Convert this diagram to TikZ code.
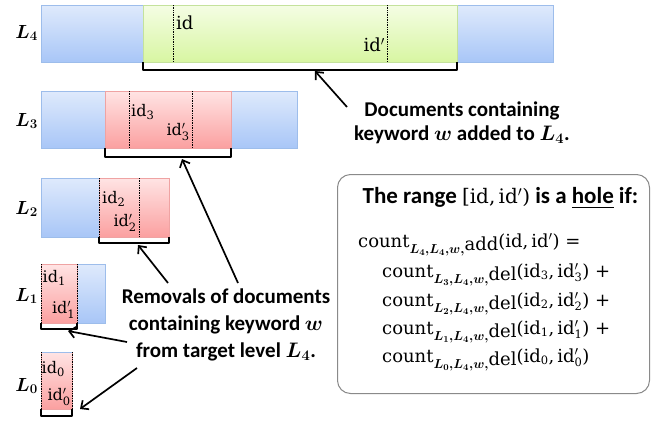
\RequirePackage{fix-cm}
\documentclass[tikz,border=0pt]{standalone}
\usepackage{amsmath}
\usepackage{bm}
\usepackage[no-math]{fontspec}
\setmainfont{Carlito}
\newfontfamily\cam{DejaVu Serif}
\usetikzlibrary{arrows.meta}
\definecolor{bt}{HTML}{DFEAFC}
\definecolor{bb}{HTML}{A8C6F7}
\definecolor{bd}{HTML}{9DBDEB}
\definecolor{gt}{HTML}{F4FDE4}
\definecolor{gb}{HTML}{D8F6A2}
\definecolor{gd}{HTML}{C4E29C}
\definecolor{pt}{HTML}{FFE4E4}
\definecolor{pb}{HTML}{FBA0A0}
\definecolor{pd}{HTML}{EFA3A3}
\definecolor{boxd}{HTML}{8A8A8A}
\tikzset{
  bluebar/.style={top color=bt, bottom color=bb, draw=bd, line width=0.6pt},
  greenbar/.style={top color=gt, bottom color=gb, draw=gd, line width=0.6pt},
  pinkbar/.style={top color=pt, bottom color=pb, draw=pd, line width=0.6pt},
  dotl/.style={densely dotted, line width=0.7pt},
  brk/.style={line width=1.5pt, line join=round},
  arr/.style={line width=1.7pt, -{Straight Barb[length=6pt,width=11pt,line width=1.7pt]}},
  idl/.style={font=\fontsize{16}{16}\selectfont\cam, inner sep=0pt},
  lvl/.style={font=\fontsize{19}{19}\selectfont, inner sep=0pt, anchor=east},
  lbl/.style={font=\fontsize{21}{27}\selectfont\bfseries, align=center, inner sep=0pt},
  cl/.style={font=\fontsize{18}{18}\selectfont\cam, inner sep=0pt, anchor=base west},
}
% id with subscript (and optional prime)
\newcommand{\ids}[1]{id$_{\mbox{\fontsize{11.5}{11.5}\selectfont #1}}$}
\newcommand{\idp}[1]{id$'_{\mbox{\fontsize{11.5}{11.5}\selectfont #1}}$}
\newcommand{\cntl}[3]{count\raisebox{-6.5pt}{\fontsize{13}{13}\selectfont$\bm{#1}$}\raisebox{-3pt}{#2}(#3)}
\begin{document}
\begin{tikzpicture}[x=1pt,y=-1pt]
\useasboundingbox (0,0) rectangle (665,421);
% L4
\path[bluebar] (41,5) rectangle (143,62);
\path[bluebar] (457,5) rectangle (553,62);
\path[greenbar] (143,5) rectangle (457,62);
\draw[dotl] (173,5) -- (173,62);
\draw[dotl] (387,5) -- (387,62);
\node[idl, font=\fontsize{18}{18}\selectfont\cam, anchor=west] (id4) at (176,23) {id};
\node[idl, font=\fontsize{18}{18}\selectfont\cam, anchor=east] (id4p) at (385,45) {id$'$};
\node[lvl] (l4) at (38,33) {$\bm{L_4}$};
\draw[brk] (143,62) -- (143,70) -- (457,70) -- (457,62);
\coordinate (b4) at (315,71);
% L3
\path[bluebar] (41,91) rectangle (105,148);
\path[bluebar] (231,91) rectangle (297,148);
\path[pinkbar] (105,91) rectangle (231,148);
\draw[dotl] (129,91) -- (129,148);
\draw[dotl] (192,91) -- (192,148);
\node[idl, anchor=west] (id3) at (131,112) {\ids{3}};
\node[idl, anchor=east] (id3p) at (190,132) {\idp{3}};
\node[lvl] (l3) at (38,121) {$\bm{L_3}$};
\draw[brk] (105,148) -- (105,157) -- (231,157) -- (231,148);
\coordinate (b3) at (182,159);
% L2
\path[bluebar] (41,178) rectangle (99,237);
\path[pinkbar] (99,178) rectangle (169,237);
\draw[dotl] (99,178) -- (99,237);
\draw[dotl] (139,178) -- (139,237);
\node[idl, anchor=west] (id2) at (102,199) {\ids{2}};
\node[idl, anchor=east] (id2p) at (137,223) {\idp{2}};
\node[lvl] (l2) at (38,209) {$\bm{L_2}$};
\draw[brk] (99,237) -- (99,243) -- (169,243) -- (169,237);
\coordinate (b2) at (138,245);
% L1
\path[bluebar] (77,264) rectangle (105,323);
\path[pinkbar] (41,264) rectangle (77,323);
\draw[dotl] (41,264) -- (41,323);
\draw[dotl] (77,264) -- (77,323);
\node[idl, anchor=west] (id1) at (42.5,278) {\ids{1}};
\node[idl, anchor=east] (id1p) at (75.5,310) {\idp{1}};
\node[lvl] (l1) at (38,296) {$\bm{L_1}$};
\draw[brk] (41,323) -- (41,329) -- (77,329) -- (77,323);
\coordinate (b1) at (68,331);
% L0
\path[pinkbar] (41,352) rectangle (72,409);
\draw[bd, line width=0.8pt] (41,352) -- (72,352);
\draw[dotl] (41,352) -- (41,409);
\draw[dotl] (72,352) -- (72,409);
\node[idl, anchor=west] (id0) at (41.5,369) {\ids{0}};
\node[idl, anchor=east] (id0p) at (71,397) {\idp{0}};
\node[lvl] (l0) at (38,386) {$\bm{L_0}$};
\draw[brk] (41,409) -- (41,416) -- (72,416) -- (72,409);
\coordinate (b0) at (80,409);
% labels
\node[lbl] (doc) at (462,123) {Documents containing\\[-3pt]keyword $\bm{w}$ added to $\bm{L_4}$.};
\node[lbl] (rem) at (226,325) {Removals of documents\\containing keyword $\bm{w}$\\from target level $\bm{L_4}$.};
\coordinate (d0) at (347,107);
\coordinate (r3) at (238,283);
\coordinate (r2) at (168,283);
\coordinate (r1) at (127,342);
\coordinate (r0) at (137,368);
\draw[arr] (d0) -- (b4);
\draw[arr] (r3) -- (b3);
\draw[arr] (r2) -- (b2);
\draw[arr] (r1) -- (b1);
\draw[arr] (r0) -- (b0);
% box
\node[draw=boxd, line width=1pt, rounded corners=13pt, minimum width=312pt, minimum height=219pt, anchor=north west, inner sep=0pt] (box) at (337,174) {};
\node[font=\fontsize{23}{23}\selectfont\bfseries, inner sep=0pt] (title) at (500.5,198) {The range {\mdseries\cam\fontsize{20}{20}\selectfont[id,\,id$'$)} is a \underline{hole} if:};
\node[cl] (c4) at (358,247) {\cntl{L_4{,}L_4{,}w{,}}{add}{id,\,id$'$}~=};
\node[cl] (c3) at (382,277) {\cntl{L_3{,}L_4{,}w{,}}{del}{\ids{3},\,\idp{3}}~+};
\node[cl] (c2) at (382,306) {\cntl{L_2{,}L_4{,}w{,}}{del}{\ids{2},\,\idp{2}}~+};
\node[cl] (c1) at (382,334) {\cntl{L_1{,}L_4{,}w{,}}{del}{\ids{1},\,\idp{1}}~+};
\node[cl] (c0) at (382,362) {\cntl{L_0{,}L_4{,}w{,}}{del}{\ids{0},\,\idp{0}}};
\end{tikzpicture}
\end{document}
